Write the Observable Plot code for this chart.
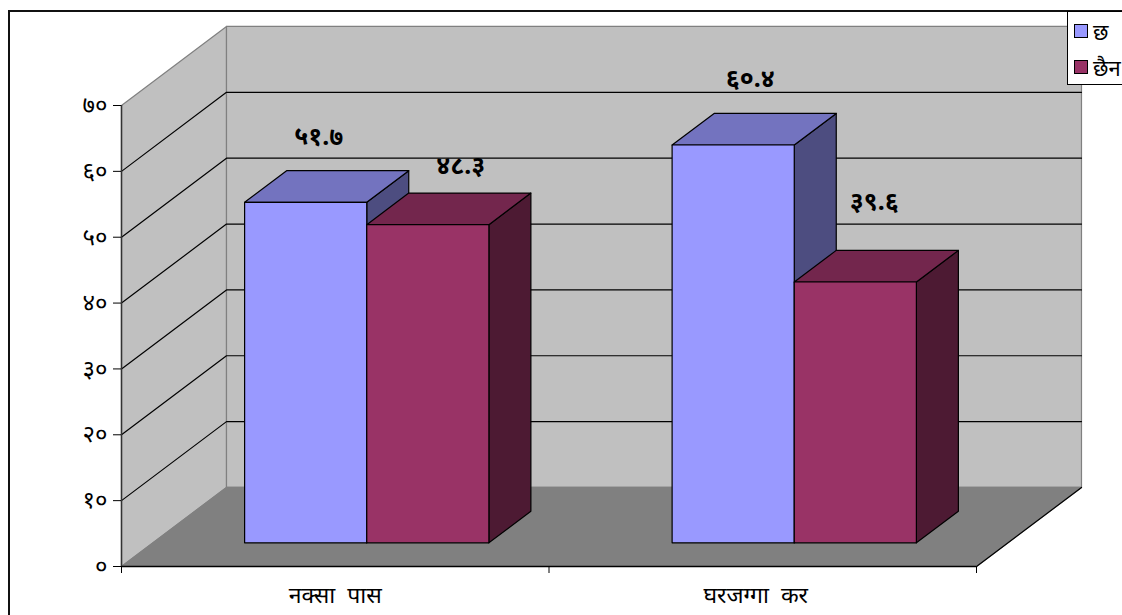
<!DOCTYPE html>
<html><head><meta charset="utf-8">
<script src="https://cdn.jsdelivr.net/npm/d3@7"></script>
<script src="https://cdn.jsdelivr.net/npm/@observablehq/plot@0.6"></script>
<style>
html,body{margin:0;padding:0;background:#fff;overflow:hidden;}
#wrap{position:relative;width:1122px;height:615px;overflow:hidden;}
#frame{position:absolute;left:8px;top:10px;width:1200px;height:700px;border:2px solid #111;box-sizing:border-box;pointer-events:none;}
#legend{position:absolute;left:1067px;top:11px;width:60px;height:74px;background:#fff;border:1px solid #000;box-sizing:border-box;font-family:"Noto Sans","Noto Sans Devanagari",sans-serif;font-size:22px;color:#000;}
.row{position:absolute;left:6px;display:flex;align-items:center;height:24px;white-space:nowrap;}
.sw{display:inline-block;width:12px;height:12px;border:1px solid #000;margin-right:5px;box-sizing:content-box;}
svg{position:absolute;left:0;top:0;overflow:visible;}
</style></head><body><div id="wrap"><div id="frame"></div><div id="legend"></div></div>
<script>
const categories = ["नक्सा\u00A0\u00A0पास", "घरजग्गा\u00A0\u00A0कर"];
const seriesNames = ["छ", "छैन"];
const yesValues = [51.7, 60.4];
const noValues = [48.3, 39.6];
const yesLabels = ["५१.७", "६०.४"];
const noLabels = ["४८.३", "३९.६"];
const yTicks = [0, 10, 20, 30, 40, 50, 60, 70];
const yTickLabels = ["०", "१०", "२०", "३०", "४०", "५०", "६०", "७०"];
const seriesFace = ["#9999FF", "#993366"];
const seriesTop = ["#7373BF", "#73264D"];
const seriesSide = ["#4D4D80", "#4D1A33"];

// oblique projection, in data units: depth 0 = front plane, depth 1 = back wall
const depthX = 0.2456, depthY = 12;
const P = (c, v, d) => ({x: c + d * depthX, y: v + d * depthY});
const gap = 0.2143, barW = 0.2857, bFront = 0.3, bBack = 0.7;

function poly(id, pts, fill, stroke) {
  return pts.concat([pts[0]]).map(p => ({...p, id, fill, stroke}));
}
const walls = [
  ...poly("side", [P(0,0,0), P(0,0,1), P(0,70,1), P(0,70,0)], "#C0C0C0", "#808080"),
  ...poly("back", [P(0,0,1), P(2,0,1), P(2,70,1), P(0,70,1)], "#C0C0C0", "#808080"),
  ...poly("floor", [P(0,0,0), P(0,0,1), P(2,0,1), P(2,0,0)], "#808080", "#808080")
];
const grid = yTicks.slice(1, -1).flatMap(v => [
  {...P(0,v,0), id:v}, {...P(0,v,1), id:v}, {...P(2,v,1), id:v}
]);
const bars = [];
const labels = [];
const labelShift = [[-29,-34],[-9,-27],[-25,-34],[-23,-48]];
categories.forEach((c, i) => {
  [yesValues[i], noValues[i]].forEach((v, s) => {
    const l = i + gap + s * barW, r = l + barW;
    const id = i + "-" + s;
    bars.push(
      ...poly(id+"side", [P(r,0,bFront), P(r,0,bBack), P(r,v,bBack), P(r,v,bFront)], seriesSide[s], "#000"),
      ...poly(id+"top", [P(l,v,bFront), P(r,v,bFront), P(r,v,bBack), P(l,v,bBack)], seriesTop[s], "#000"),
      ...poly(id+"face", [P(l,0,bFront), P(r,0,bFront), P(r,v,bFront), P(l,v,bFront)], seriesFace[s], "#000")
    );
    labels.push({...P((l+r)/2, v, bBack), text: s ? noLabels[i] : yesLabels[i], shift: labelShift[i*2+s]});
  });
});
const devFont = '"Noto Sans","Noto Sans Devanagari",sans-serif';
const polys = rows => Plot.line(rows, {x:"x", y:"y", z:"id", fill:"fill", stroke:"stroke", strokeWidth:1.2, curve:"linear"});
const catShift = [0, -7];

const chart = Plot.plot({
  width: 1122, height: 615,
  marginLeft: 121, marginRight: 146, marginTop: 105, marginBottom: 49,
  style: {background:"transparent", fontFamily: devFont},
  x: {type:"linear", domain:[0,2], axis:null},
  y: {type:"linear", domain:[0,70], axis:null},
  marks: [
    polys(walls),
    Plot.line(grid, {x:"x", y:"y", z:"id", stroke:"#000", strokeWidth:1.2}),
    Plot.ruleY([0], {stroke:"#000", strokeWidth:1.5}),
    Plot.ruleX([0], {stroke:"#333", strokeWidth:1.5}),
    Plot.line([P(2,0,0), P(2,0,1)], {x:"x", y:"y", stroke:"#000", strokeWidth:1.2}),
    polys(bars),
    Plot.axisY({ticks:yTicks, tickSize:8, tickPadding:6, label:null, fontSize:24, tickFormat:d=>yTickLabels[yTicks.indexOf(d)], stroke:"#000", fill:"#000"}),
    Plot.axisX({ticks:[0,1,2], tickSize:7, tickFormat:()=>"", label:null, stroke:"#000"}),
    ...categories.map((c,i) => Plot.text([c], {x:[i+0.5], y:[0], text:[c], dy:29, dx:catShift[i], fontSize:23, fill:"#000"})),
    ...labels.map(d => Plot.text([d], {x:"x", y:"y", text:"text", dx:d.shift[0], dy:d.shift[1], fontSize:25, fontWeight:"bold", fill:"#000"}))
  ]
});
document.getElementById("wrap").insertBefore(chart, document.getElementById("frame"));
const lg = document.getElementById("legend");
seriesNames.forEach((n,i)=>{
  const r=document.createElement("div");r.className="row";r.style.top=(7+i*36)+"px";
  const s=document.createElement("span");s.className="sw";s.style.background=seriesFace[i];
  r.appendChild(s);r.appendChild(document.createTextNode(n));lg.appendChild(r);
});
</script></body></html>
